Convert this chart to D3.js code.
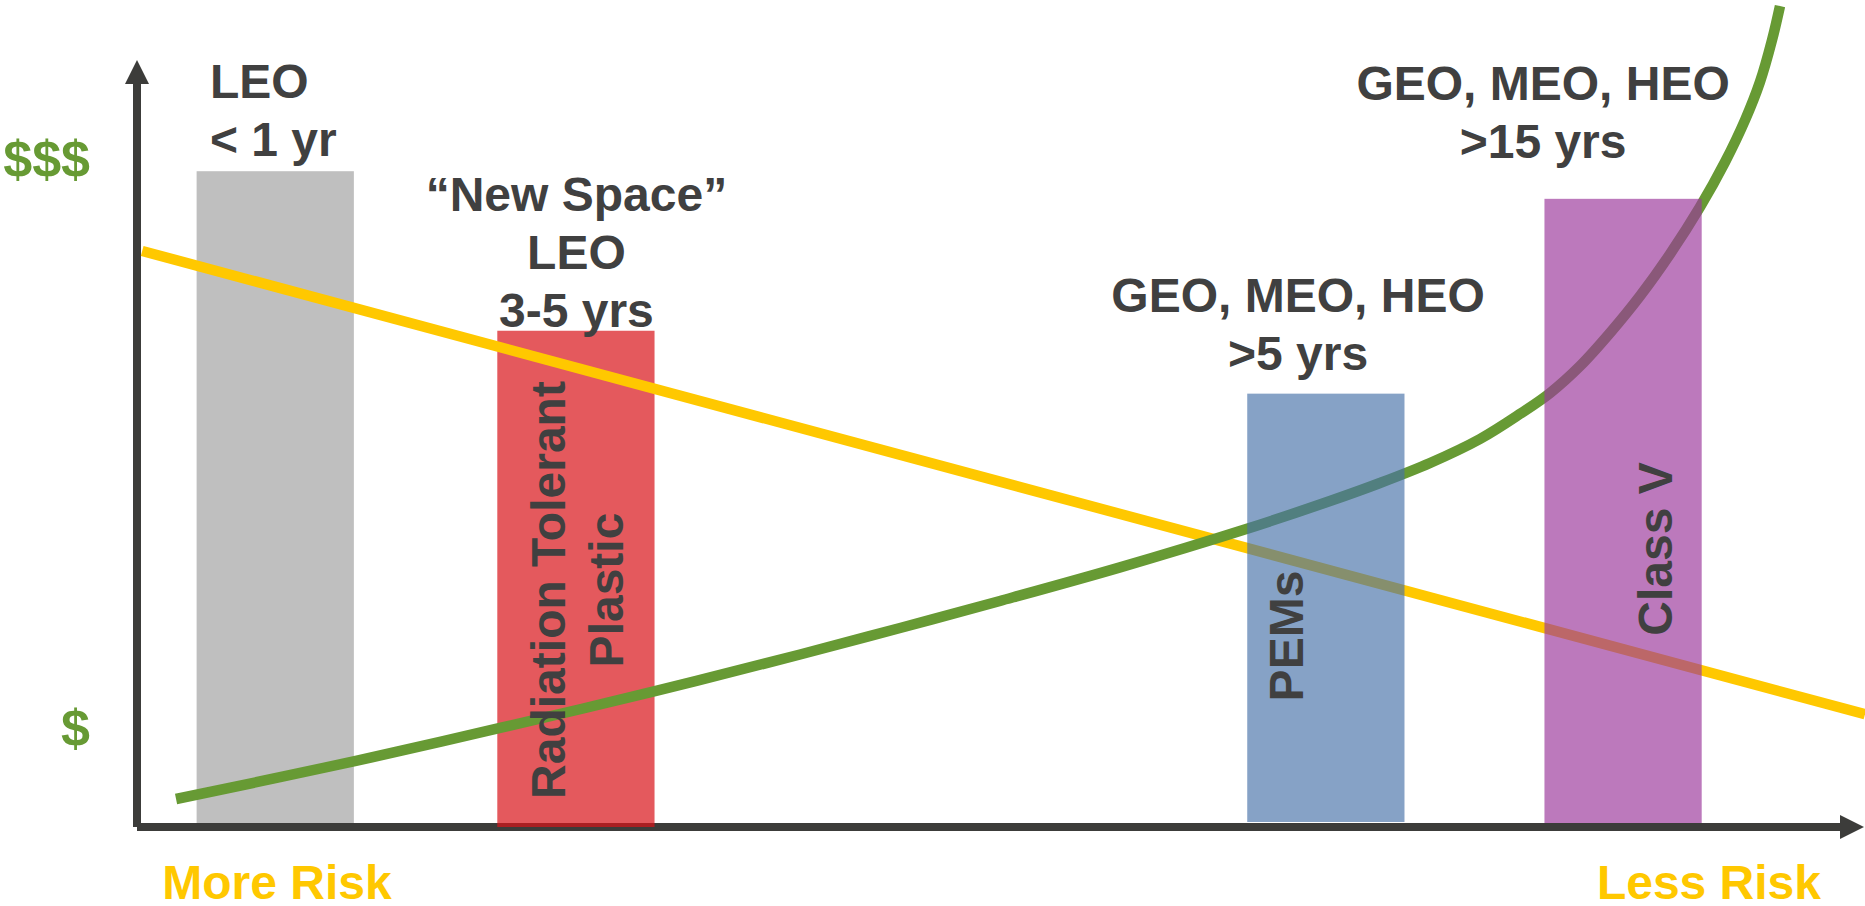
<!DOCTYPE html>
<html>
<head>
<meta charset="utf-8">
<script src="https://cdn.jsdelivr.net/npm/d3@7/dist/d3.min.js"></script>
<style>
  html, body { margin: 0; padding: 0; background: #ffffff; }
  svg { display: block; }
  text { font-family: "Liberation Sans", Arial, Helvetica, sans-serif; font-weight: bold; }
</style>
</head>
<body>
<svg id="chart" width="1865" height="906"></svg>
<script>
// ---------- data (x = risk position, y = cost / level, arbitrary units 0..10) ----------
const barCategories = ["LEO < 1 yr", "\u201CNew Space\u201D LEO 3-5 yrs", "GEO, MEO, HEO >5 yrs", "GEO, MEO, HEO >15 yrs"];
const barCenters    = [0.80, 2.54, 6.88, 8.60];
const barValues     = [8.55, 6.47, 5.65, 8.19];
const barNames      = [[], ["Radiation Tolerant", "Plastic"], ["PEMs"], ["Class V"]];

// yellow straight line (risk)
const riskX = [0.03, 10.0];
const riskY = [7.51, 1.47];

// green curve (cost)
const costX = [0.226, 1.267, 2.101, 2.992, 3.837, 4.416, 4.994, 5.689, 6.401, 6.904, 7.193, 7.483, 7.772, 8.003, 8.177, 8.351, 8.524, 8.698, 8.872, 9.045, 9.190, 9.306, 9.392, 9.462, 9.508];
const costY = [0.365, 0.861, 1.291, 1.767, 2.249, 2.595, 2.947, 3.385, 3.872, 4.250, 4.485, 4.746, 5.059, 5.385, 5.658, 6.010, 6.441, 6.923, 7.471, 8.083, 8.670, 9.218, 9.713, 10.261, 10.704];

// axis tick labels
const yTickValues = [1.28, 8.70];
const yTickLabels = ["$", "$$$"];
const xTickValues = [0.807, 9.094];
const xTickLabels = ["More Risk", "Less Risk"];

// top annotations (lines, anchor position in data units)
const topLabels = [
  { lines: ["LEO", "< 1 yr"], x: 0.422, y: 9.505, anchor: "start" },
  { lines: ["\u201CNew Space\u201D", "LEO", "3-5 yrs"], x: 2.543, y: 8.031, anchor: "middle" },
  { lines: ["GEO, MEO, HEO", ">5 yrs"], x: 6.719, y: 6.714, anchor: "middle" },
  { lines: ["GEO, MEO, HEO", ">15 yrs"], x: 8.137, y: 9.478, anchor: "middle" }
];
// rotated bar labels: baseline x and centre y (data units)
const barLabelX = [null, 2.477, 6.748, 8.883];
const barLabelY = [null, 3.09, 2.49, 3.625];

// ---------- drawing ----------
const svg = d3.select("#chart");
const x = d3.scaleLinear().domain([0, 10]).range([137, 1865]);
const y = d3.scaleLinear().domain([0, 10]).range([827, 60]);

const axisColor = "#3c3c3a";
const textColor = "#404040";
const barWidth = 0.91;
const axisW = 8;
const lineH = 58;
const fs = 48;

const barFill = ["#bfbfbf", "rgb(217,19,24)", "rgb(69,112,168)", "rgb(155,55,155)"];
const barOpacity = [1, 0.7, 0.65, 0.67];

function barRect(sel, i, bottomInset) {
  const c = barCenters[i];
  sel.append("rect")
    .attr("x", x(c - barWidth / 2))
    .attr("width", x(barWidth) - x(0))
    .attr("y", y(barValues[i]))
    .attr("height", y(0) - bottomInset - y(barValues[i]))
    .attr("fill", barFill[i])
    .attr("fill-opacity", barOpacity[i]);
}

// gray bar (under axis)
barRect(svg, 0, axisW / 2);

// axes
const x0 = x(0), yB = y(0);
svg.append("line").attr("x1", x0).attr("x2", x0)
  .attr("y1", 78).attr("y2", yB)
  .attr("stroke", axisColor).attr("stroke-width", axisW);
svg.append("path")
  .attr("d", `M${x0},60 L${x0 + 12},84 L${x0 - 12},84 Z`)
  .attr("fill", axisColor);
svg.append("line").attr("x1", x0).attr("x2", 1846)
  .attr("y1", yB).attr("y2", yB)
  .attr("stroke", axisColor).attr("stroke-width", axisW);
svg.append("path")
  .attr("d", `M1864,${yB} L1840,${yB - 12} L1840,${yB + 12} Z`)
  .attr("fill", axisColor);

// y tick labels ($, $$$)
const yAxis = d3.axisLeft(y).tickValues(yTickValues)
  .tickFormat((d, i) => yTickLabels[i]).tickSize(0).tickPadding(47);
const gy = svg.append("g").attr("transform", `translate(${x0},0)`).call(yAxis);
gy.select(".domain").remove();
gy.selectAll("text").attr("font-size", 52).attr("fill", "#679a34")
  .style("font-family", '"Liberation Sans", Arial, sans-serif').style("font-weight", "bold");

// x tick labels (More Risk, Less Risk)
const xAxis = d3.axisBottom(x).tickValues(xTickValues)
  .tickFormat((d, i) => xTickLabels[i]).tickSize(0).tickPadding(38);
const gx = svg.append("g").attr("transform", `translate(0,${yB})`).call(xAxis);
gx.select(".domain").remove();
gx.selectAll("text").attr("font-size", fs).attr("fill", "#ffc800")
  .style("font-family", '"Liberation Sans", Arial, sans-serif').style("font-weight", "bold");

// red bar (over axis, under lines)
barRect(svg, 1, 0);

// yellow risk line
const straight = d3.line().x(d => x(d[0])).y(d => y(d[1]));
svg.append("path")
  .datum(d3.zip(riskX, riskY))
  .attr("d", straight)
  .attr("fill", "none").attr("stroke", "#ffc800").attr("stroke-width", 10.5);

// green cost curve
const smooth = d3.line().x(d => x(d[0])).y(d => y(d[1])).curve(d3.curveCatmullRom.alpha(0.5));
svg.append("path")
  .datum(d3.zip(costX, costY))
  .attr("d", smooth)
  .attr("fill", "none").attr("stroke", "#679a34").attr("stroke-width", 10.5);

// translucent bars over lines
barRect(svg, 2, axisW / 2 + 1);
barRect(svg, 3, axisW / 2);

// top annotations
topLabels.forEach(lab => {
  const t = svg.append("text")
    .attr("font-size", fs).attr("fill", textColor)
    .attr("text-anchor", lab.anchor);
  lab.lines.forEach((ln, k) => {
    t.append("tspan").attr("x", x(lab.x)).attr("y", y(lab.y) + k * lineH).text(ln);
  });
});

// rotated bar names
barNames.forEach((lines, i) => {
  if (!lines.length) return;
  lines.forEach((ln, k) => {
    const bx = x(barLabelX[i]) + k * lineH;
    const cy = y(barLabelY[i]);
    svg.append("text")
      .attr("x", bx).attr("y", cy)
      .attr("transform", `rotate(-90,${bx},${cy})`)
      .attr("text-anchor", "middle")
      .attr("font-size", fs).attr("fill", textColor)
      .text(ln);
  });
});
</script>
</body>
</html>
